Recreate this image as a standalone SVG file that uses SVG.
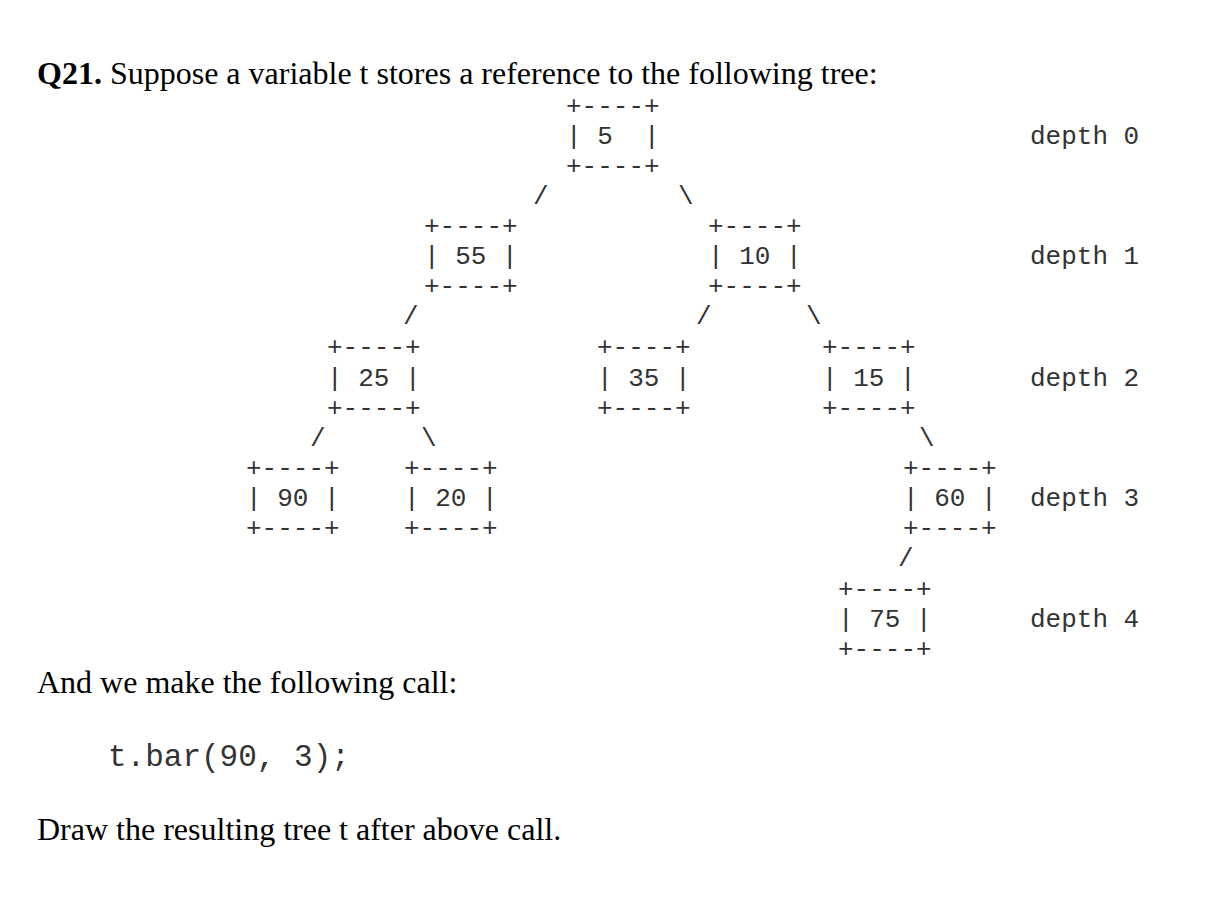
<svg xmlns="http://www.w3.org/2000/svg" width="1222" height="910" viewBox="0 0 1222 910">
<style>
.m{font-family:"Liberation Mono",monospace;font-size:26px;fill:#333;white-space:pre}
.s{font-family:"Liberation Serif",serif;font-size:32px;fill:#000}
</style>
<rect width="1222" height="910" fill="#fff"/>
<text class="s" x="37" y="84"><tspan font-weight="bold">Q21.</tspan> Suppose a variable t stores a reference to the following tree:</text>
<g id="n5" class="m"><text x="566" y="114">+----+</text><text x="566" y="144" xml:space="preserve">| 5  |</text><text x="566" y="174">+----+</text></g>
<g id="n55" class="m"><text x="424" y="234">+----+</text><text x="424" y="264" xml:space="preserve">| 55 |</text><text x="424" y="294">+----+</text></g>
<g id="n10" class="m"><text x="708" y="234">+----+</text><text x="708" y="264" xml:space="preserve">| 10 |</text><text x="708" y="294">+----+</text></g>
<g id="n25" class="m"><text x="327" y="355">+----+</text><text x="327" y="386" xml:space="preserve">| 25 |</text><text x="327" y="416">+----+</text></g>
<g id="n35" class="m"><text x="597" y="355">+----+</text><text x="597" y="386" xml:space="preserve">| 35 |</text><text x="597" y="416">+----+</text></g>
<g id="n15" class="m"><text x="822" y="355">+----+</text><text x="822" y="386" xml:space="preserve">| 15 |</text><text x="822" y="416">+----+</text></g>
<g id="n90" class="m"><text x="246" y="476">+----+</text><text x="246" y="506" xml:space="preserve">| 90 |</text><text x="246" y="536">+----+</text></g>
<g id="n20" class="m"><text x="404" y="476">+----+</text><text x="404" y="506" xml:space="preserve">| 20 |</text><text x="404" y="536">+----+</text></g>
<g id="n60" class="m"><text x="903" y="476">+----+</text><text x="903" y="506" xml:space="preserve">| 60 |</text><text x="903" y="536">+----+</text></g>
<g id="n75" class="m"><text x="838" y="597">+----+</text><text x="838" y="627" xml:space="preserve">| 75 |</text><text x="838" y="657">+----+</text></g>
<g id="connectors" class="m">
<text x="533" y="204">/</text><text x="678" y="204">\</text>
<text x="403" y="324">/</text><text x="696" y="324">/</text><text x="806" y="324">\</text>
<text x="310" y="446">/</text><text x="421" y="446">\</text><text x="919" y="446">\</text>
<text x="898" y="566">/</text>
</g>
<g id="depths" class="m">
<text x="1030" y="144">depth 0</text><text x="1030" y="264">depth 1</text><text x="1030" y="386">depth 2</text><text x="1030" y="506">depth 3</text><text x="1030" y="627">depth 4</text>
</g>
<text class="s" x="37" y="693">And we make the following call:</text>
<text class="m" x="108" y="766" style="font-size:31px">t.bar(90, 3);</text>
<text class="s" x="37" y="840">Draw the resulting tree t after above call.</text>
</svg>
